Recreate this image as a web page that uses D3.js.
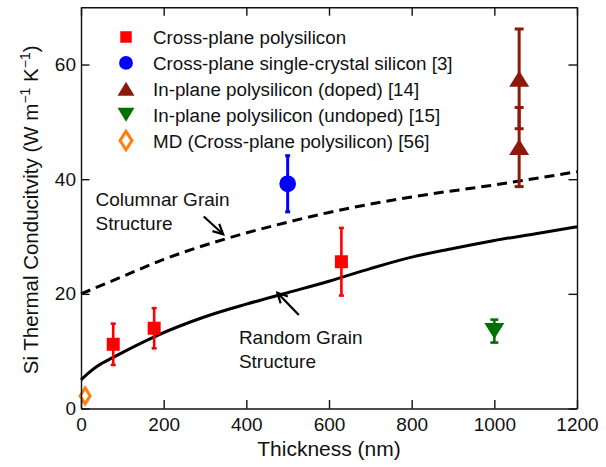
<!DOCTYPE html>
<html>
<head>
<meta charset="utf-8">
<script src="https://cdn.jsdelivr.net/npm/d3@7"></script>
<style>
  body { margin: 0; background: #fff; }
  text { font-family: Arial, 'Liberation Sans', Helvetica, sans-serif; fill: #111; }
</style>
</head>
<body>
<svg id="chart" width="606" height="467"></svg>
<script>
// data (thickness in nm, k in W/m/K)
const crossPoly = [
  { x: 78, y: 11.2, err: 3.6 },
  { x: 177, y: 14.0, err: 3.5 },
  { x: 630, y: 25.6, err: 5.9 },
];
const crossSingle = [{ x: 500, y: 39.2, err: 4.9 }];
const inPlaneDoped = [
  { x: 1060, y: 57.5, err: 8.7 },
  { x: 1060, y: 45.6, err: 6.9 },
];
const inPlaneUndoped = [{ x: 1000, y: 13.5, err: 2.0 }];
const mdPoly = [{ x: 10, y: 2.2 }];

// model curves
const columnarCurve = [
  [0, 20.0], [100, 23.0], [200, 26.0], [350, 29.6], [500, 32.5],
  [600, 34.2], [800, 36.9], [1000, 39.0], [1200, 41.3],
];
const randomCurve = [
  [0, 5.0], [20, 6.3], [40, 7.4], [80, 9.0], [180, 12.6], [300, 16.0],
  [400, 18.2], [500, 20.2], [600, 22.2], [700, 24.4], [800, 26.4],
  [900, 27.9], [1000, 29.3], [1100, 30.5], [1200, 31.7],
];

const xTicks = [0, 200, 400, 600, 800, 1000, 1200];
const yTicks = [0, 20, 40, 60];

const legendLabels = [
  'Cross-plane polysilicon',
  'Cross-plane single-crystal silicon [3]',
  'In-plane polysilicon (doped) [14]',
  'In-plane polysilicon (undoped) [15]',
  'MD (Cross-plane polysilicon) [56]',
];

const svg = d3.select('#chart');
const x = d3.scaleLinear().domain([0, 1200]).range([81, 577]);
const y = d3.scaleLinear().domain([0, 70]).range([408.5, 7.2]);

// marker shapes
function square(s) {
  return `M${-s / 2},${-s / 2}h${s}v${s}h${-s}Z`;
}
function triUp(w, h) {
  return `M0,${-h / 2}L${w / 2},${h / 2}L${-w / 2},${h / 2}Z`;
}
function triDown(w, h) {
  return `M0,${h / 2}L${w / 2},${-h / 2}L${-w / 2},${-h / 2}Z`;
}
function diamond(w, h) {
  return `M0,${-h / 2}L${w / 2},0L0,${h / 2}L${-w / 2},0Z`;
}

svg
  .append('defs')
  .append('marker')
  .attr('id', 'arrow')
  .attr('markerUnits', 'userSpaceOnUse')
  .attr('viewBox', '-12 -7 14 14')
  .attr('markerWidth', 14)
  .attr('markerHeight', 14)
  .attr('orient', 'auto')
  .append('path')
  .attr('d', 'M-10,-5L0,0L-10,5')
  .attr('fill', 'none')
  .attr('stroke', '#000')
  .attr('stroke-width', 2.2);

// curves
const line = d3
  .line()
  .x((d) => x(d[0]))
  .y((d) => y(d[1]))
  .curve(d3.curveMonotoneX);

svg
  .append('path')
  .attr('d', line(columnarCurve))
  .attr('fill', 'none')
  .attr('stroke', '#000')
  .attr('stroke-width', 3)
  .attr('stroke-dasharray', '10,6');

svg
  .append('path')
  .attr('d', line(randomCurve))
  .attr('fill', 'none')
  .attr('stroke', '#000')
  .attr('stroke-width', 3);

// error bars
function errorBars(data, color, cap, width) {
  const g = svg.append('g').attr('stroke', color).attr('stroke-width', width);
  data.forEach((d) => {
    g.append('line')
      .attr('x1', x(d.x))
      .attr('x2', x(d.x))
      .attr('y1', y(d.y - d.err))
      .attr('y2', y(d.y + d.err));
    [d.y - d.err, d.y + d.err].forEach((v) => {
      g.append('line')
        .attr('x1', x(d.x) - cap / 2)
        .attr('x2', x(d.x) + cap / 2)
        .attr('y1', y(v))
        .attr('y2', y(v));
    });
  });
}

errorBars(crossPoly, '#ff0000', 5, 2.6);
errorBars(crossSingle, '#0000ff', 5, 3);
errorBars(inPlaneDoped, '#8b1a0a', 9, 3);
errorBars(inPlaneUndoped, '#007000', 8, 2.6);

// points
function points(data, d, fill, stroke, sw) {
  svg
    .append('g')
    .selectAll('path')
    .data(data)
    .join('path')
    .attr('transform', (p) => `translate(${x(p.x)},${y(p.y)})`)
    .attr('d', d)
    .attr('fill', fill)
    .attr('stroke', stroke || 'none')
    .attr('stroke-width', sw || 0);
}

points(crossPoly, square(13), '#ff0000');
points(crossSingle, d3.symbol(d3.symbolCircle, 220)(), '#0000ff');
points(inPlaneDoped, triUp(20, 16), '#8b1a0a');
points(inPlaneUndoped, triDown(20, 16), '#007000');
points(mdPoly, diamond(10, 16), '#fff', '#ff7f0e', 3);

// annotations
const notes = [
  { lines: ['Columnar Grain', 'Structure'], tx: 35, ty: 35.3, from: [297, 33.5], to: [344, 30.4] },
  { lines: ['Random Grain', 'Structure'], tx: 382, ty: 11.3, from: [527, 16.3], to: [475, 20.2] },
];

notes.forEach((n) => {
  svg
    .append('text')
    .attr('x', x(n.tx))
    .attr('y', y(n.ty))
    .attr('font-size', 19)
    .selectAll('tspan')
    .data(n.lines)
    .join('tspan')
    .attr('x', x(n.tx))
    .attr('dy', (d, i) => (i ? 24 : 0))
    .text((d) => d);
  svg
    .append('line')
    .attr('x1', x(n.from[0]))
    .attr('y1', y(n.from[1]))
    .attr('x2', x(n.to[0]))
    .attr('y2', y(n.to[1]))
    .attr('stroke', '#000')
    .attr('stroke-width', 2.2)
    .attr('marker-end', 'url(#arrow)');
});

// axes (box with inward ticks)
const tick = 8.5;
const axBottom = svg
  .append('g')
  .attr('transform', `translate(0,${y(0)})`)
  .call(
    d3.axisBottom(x).tickValues(xTicks).tickFormat(d3.format('d'))
      .tickSizeInner(-tick).tickSizeOuter(0).tickPadding(9)
  );
const axLeft = svg
  .append('g')
  .attr('transform', `translate(${x(0)},0)`)
  .call(
    d3.axisLeft(y).tickValues(yTicks).tickFormat(d3.format('d'))
      .tickSizeInner(-tick).tickSizeOuter(0).tickPadding(5)
  );
const axTop = svg
  .append('g')
  .attr('transform', `translate(0,${y(70)})`)
  .call(d3.axisTop(x).tickValues(xTicks).tickSizeInner(-tick).tickSizeOuter(0).tickFormat(''));
const axRight = svg
  .append('g')
  .attr('transform', `translate(${x(1200)},0)`)
  .call(d3.axisRight(y).tickValues(yTicks).tickSizeInner(-tick).tickSizeOuter(0).tickFormat(''));

[axBottom, axLeft, axTop, axRight].forEach((g) => {
  g.selectAll('path, line').attr('stroke', '#111').attr('stroke-width', 1.4);
  g.selectAll('text').attr('font-size', 19).attr('font-family', null).attr('fill', '#111');
});

// axis titles
svg
  .append('text')
  .attr('x', (x(0) + x(1200)) / 2)
  .attr('y', 456)
  .attr('text-anchor', 'middle')
  .attr('font-size', 21)
  .text('Thickness (nm)');

const yTitle = svg
  .append('text')
  .attr('transform', `translate(38,${(y(0) + y(70)) / 2 + 2}) rotate(-90)`)
  .attr('text-anchor', 'middle')
  .attr('font-size', 20.5);
yTitle.append('tspan').text('Si Thermal Conducitvity (W m');
yTitle.append('tspan').attr('font-size', 14).attr('dy', -8).text('\u22121');
yTitle.append('tspan').attr('dy', 8).text(' K');
yTitle.append('tspan').attr('font-size', 14).attr('dy', -8).text('\u22121');
yTitle.append('tspan').attr('dy', 8).text(')');

// legend
const legendShapes = [
  { d: square(11.5), fill: '#ff0000' },
  { d: d3.symbol(d3.symbolCircle, 150)(), fill: '#0000ff' },
  { d: triUp(17, 14), fill: '#8b1a0a' },
  { d: triDown(17, 14), fill: '#007000' },
  { d: diamond(12, 18.5), fill: '#fff', stroke: '#ff7f0e' },
];

const legend = svg
  .append('g')
  .selectAll('g')
  .data(legendLabels)
  .join('g')
  .attr('transform', (d, i) => `translate(126,${37 + i * 25.9})`);
legend
  .append('path')
  .attr('d', (d, i) => legendShapes[i].d)
  .attr('fill', (d, i) => legendShapes[i].fill)
  .attr('stroke', (d, i) => legendShapes[i].stroke || 'none')
  .attr('stroke-width', 3);
legend
  .append('text')
  .attr('x', 27)
  .attr('y', 7)
  .attr('font-size', 18.8)
  .text((d) => d);
</script>
</body>
</html>
